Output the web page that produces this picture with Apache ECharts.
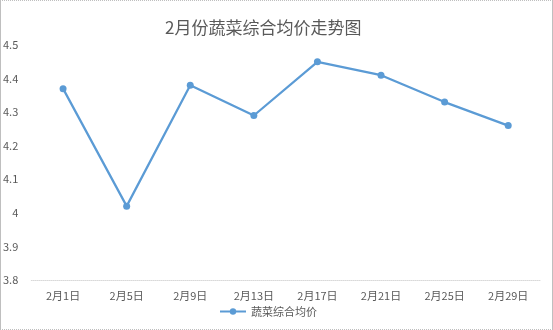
<!DOCTYPE html>
<html>
<head>
<meta charset="utf-8">
<script src="https://cdn.jsdelivr.net/npm/echarts@6/dist/echarts.min.js"></script>
<style>
html,body{margin:0;padding:0;background:#fff;}
#frame{position:absolute;left:0;top:0;width:551px;height:328px;border-left:1px solid #bfbfbf;border-right:1px solid #bfbfbf;border-top:1px dotted #bfbfbf;border-bottom:1px dotted #bfbfbf;}
#c{position:absolute;left:0;top:0;width:553px;height:330px;}
</style>
</head>
<body>
<div id="frame"></div>
<div id="c"></div>
<script>
const titleText = '2月份蔬菜综合均价走势图';
const seriesName = '蔬菜综合均价';
const categories = ['2月1日','2月5日','2月9日','2月13日','2月17日','2月21日','2月25日','2月29日'];
const values = [4.37, 4.02, 4.38, 4.29, 4.45, 4.41, 4.33, 4.26];
const yMin = 3.8, yMax = 4.5, yStep = 0.1;

const chart = echarts.init(document.getElementById('c'));
const font = '"Microsoft YaHei","Noto Sans CJK SC",sans-serif';
chart.setOption({
  animation: false,
  title: {
    text: titleText, left: 160, top: 14,
    textStyle: {fontSize: 17, fontWeight: 'normal', color: '#595959', fontFamily: font}
  },
  legend: {
    bottom: 8, left: 214, itemWidth: 26, itemHeight: 8, itemGap: 4,
    textStyle: {fontSize: 11, color: '#595959', fontFamily: font},
    data: [seriesName]
  },
  grid: {left: 30, right: 13, top: 45, bottom: 50},
  xAxis: {
    type: 'category', data: categories, boundaryGap: true,
    axisLine: {lineStyle: {color: '#d9d9d9', type: 'dotted', width: 1}},
    axisTick: {show: false},
    axisLabel: {color: '#595959', fontSize: 11, margin: 10, fontFamily: font}
  },
  yAxis: {
    type: 'value', min: yMin, max: yMax, interval: yStep,
    axisLine: {show: false}, axisTick: {show: false},
    splitLine: {show: false},
    axisLabel: {color: '#595959', fontSize: 11, margin: 13, fontFamily: font,
      formatter: v => String(Math.round(v * 10) / 10)}
  },
  series: [{
    name: seriesName, type: 'line', data: values,
    symbol: 'circle', symbolSize: 7,
    lineStyle: {color: '#5B9BD5', width: 2.25},
    itemStyle: {color: '#5B9BD5'}
  }]
});
</script>
</body>
</html>
